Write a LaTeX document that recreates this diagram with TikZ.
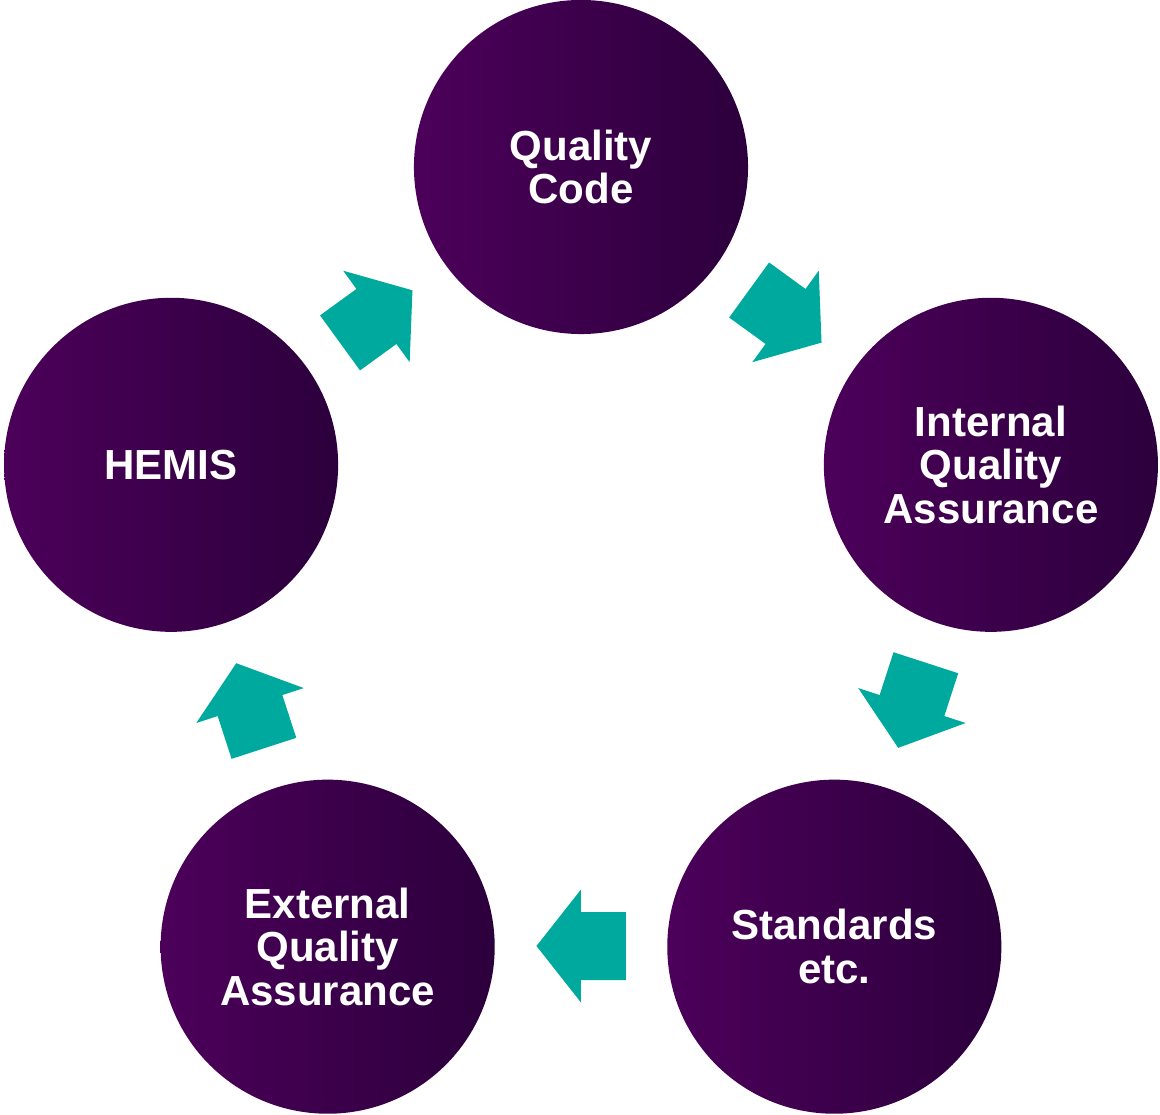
\documentclass[tikz,border=0pt]{standalone}
\usepackage{fontspec}
\setmainfont{Liberation Sans}
\definecolor{pleft}{RGB}{76,0,90}
\definecolor{pright}{RGB}{44,0,60}
\definecolor{arrteal}{RGB}{0,169,157}
\tikzset{
  stage/.style={circle, minimum size=8.35cm, inner sep=0pt, left color=pleft, right color=pright,
    text=white, font=\fontsize{29.9}{30.9}\selectfont\bfseries, align=center},
  blockarrow/.style={fill=arrteal, draw=none}
}
\begin{document}
\begin{tikzpicture}[x=0.025cm,y=0.025cm]
\useasboundingbox (-581,-516) rectangle (579,598);
\node[stage] (qc) at (90:431) {Quality\\Code};
\node[stage] (iqa) at (18:431) {Internal\\Quality\\Assurance};
\node[stage] (std) at (-54:431) {Standards\\etc.};
\node[stage] (eqa) at (-126:431) {External\\Quality\\Assurance};
\node[stage] (hemis) at (162:431) {HEMIS};
\foreach \a in {54,-18,-90,-162,126}
  \fill[blockarrow, shift={(\a:348)}, rotate=\a-90]
    (-45,-34) -- (0,-34) -- (0,-56.5) -- (44.5,0) -- (0,56.5) -- (0,34) -- (-45,34) -- cycle;
\end{tikzpicture}
\end{document}
